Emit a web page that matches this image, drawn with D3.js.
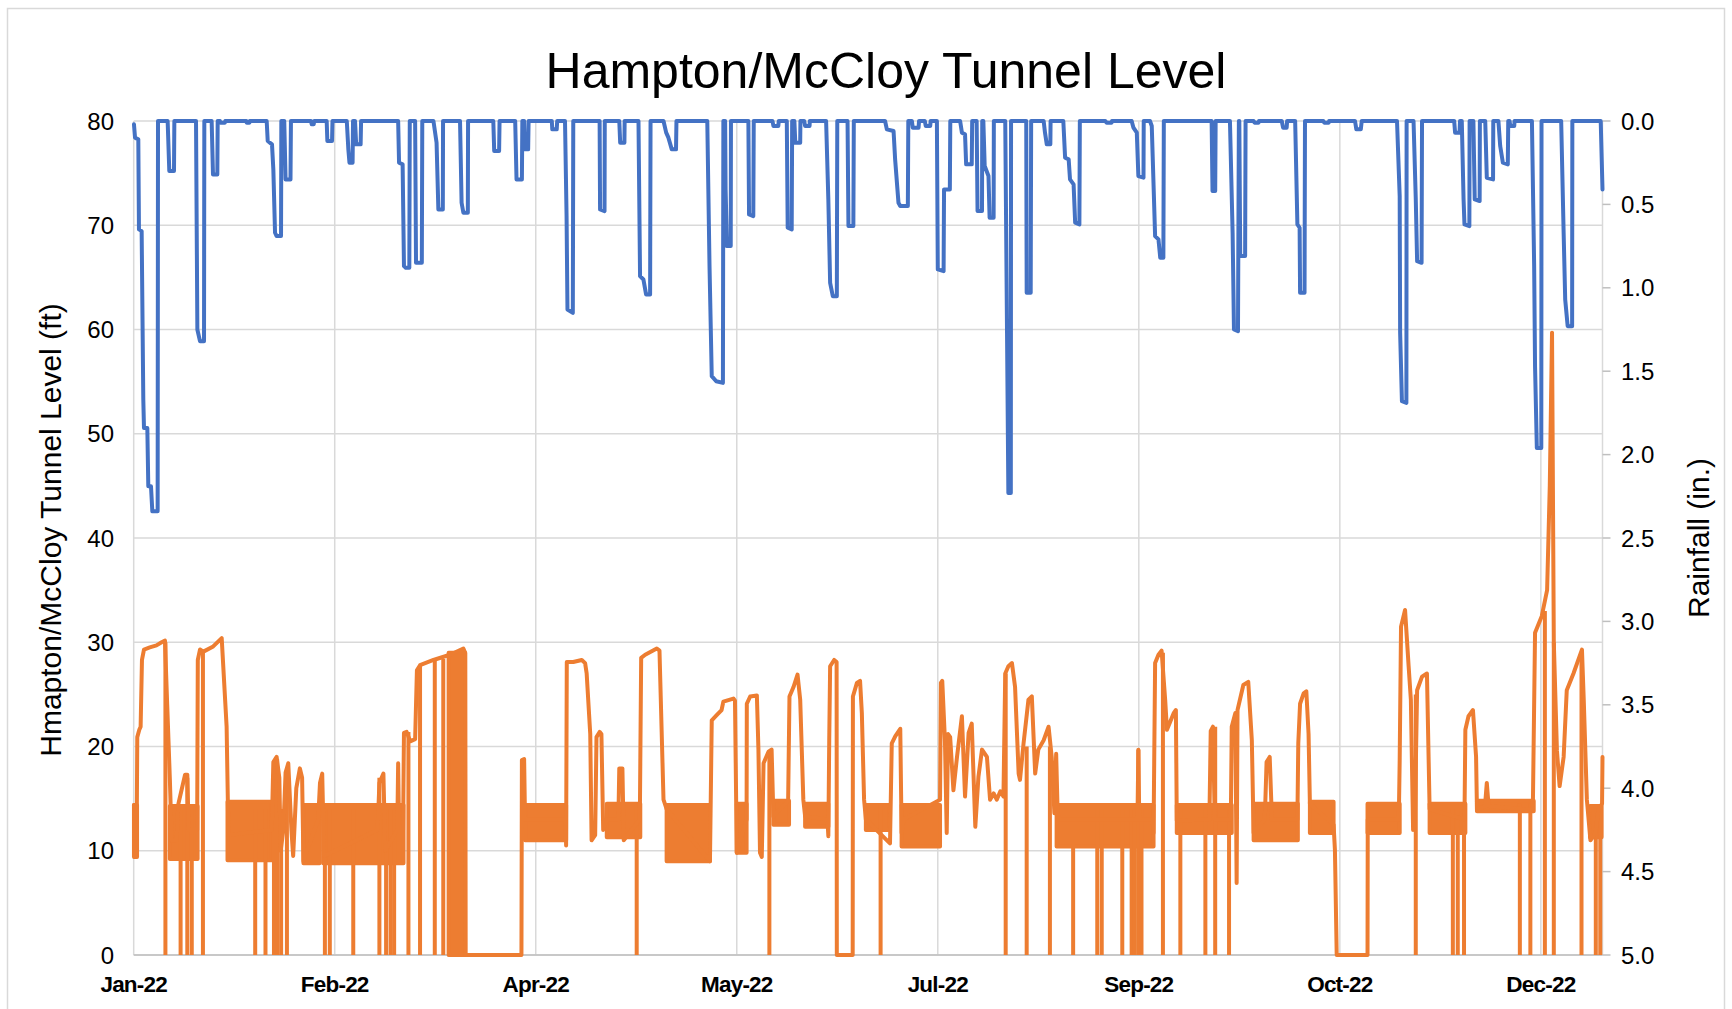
<!DOCTYPE html>
<html>
<head>
<meta charset="utf-8">
<script src="https://cdnjs.cloudflare.com/ajax/libs/d3/7.8.5/d3.min.js"></script>
<style>
  html, body { margin: 0; padding: 0; background: #fff; }
  text { font-family: "Liberation Sans", Arial, sans-serif; fill: #000; }
</style>
</head>
<body>
<div id="chart"></div>
<script>
'use strict';

// x ticks (days since start of record) and their labels
const tickDays = [0, 45, 90, 135, 180, 225, 270, 315];
const tickLabels = ["Jan-22", "Feb-22", "Apr-22", "May-22", "Jul-22", "Sep-22", "Oct-22", "Dec-22"];
const lastDay = 328.8;

const levelTicks = [0, 10, 20, 30, 40, 50, 60, 70, 80];
const rainTicks = [0, 0.5, 1, 1.5, 2, 2.5, 3, 3.5, 4, 4.5, 5];

// rainfall, inches  [day, in]
const rainfall = [
  [0.06,0.02],[0.3,0.10],[1.03,0.11],[1.18,0.65],[1.78,0.66],[2.15,1.67],[2.3,1.84],[3.05,1.84],[3.27,2.19],[3.87,2.19],[4.17,2.34],[5.36,2.34],[5.44,0],
  [7.6,0],[7.97,0.30],[9.02,0.30],[9.1,0],
  [13.95,0],[14.25,1.25],[14.84,1.32],[15.74,1.32],[15.81,0],
  [17.45,0],[17.75,0.32],[18.72,0.32],[18.8,0],
  [19.3,0],[19.4,0.01],[20.4,0.01],[20.5,0],
  [25.2,0],[25.3,0.01],[25.9,0.01],[26,0],
  [29.77,0],[30,0.12],[30.96,0.14],[31.26,0.29],[31.64,0.67],[32.0,0.69],[32.98,0.69],[33.05,0],
  [33.7,0],[34.0,0.35],[35.1,0.35],[35.2,0],
  [39.7,0],[39.85,0.02],[40.3,0.02],[40.4,0],
  [43.2,0],[43.35,0.12],[44.4,0.12],[44.5,0],
  [47.7,0],[48.05,0.17],[48.3,0.25],[49.0,0.25],[49.1,0],
  [49.55,0],[49.8,0.14],[50.8,0.14],[50.9,0],
  [59.2,0],[59.4,0.25],[60.2,0.26],[60.5,0.87],[60.9,0.88],[61.7,0.88],[61.8,0],
  [63.0,0],[63.2,0.85],[64.5,0.85],[64.6,0],
  [67.1,0],[67.8,0.13],[68.2,0.53],[69.2,0.53],[69.25,0],
  [73.05,0],[73.4,0.49],[73.8,0.55],[74.8,0.55],[74.85,0],
  [80.5,0],[80.7,0.18],[81.8,0.18],[81.9,0],
  [85.4,0],[85.7,0.35],[86.9,0.35],[87.0,0],
  [87.4,0],[87.55,0.17],[88.3,0.17],[88.4,0],
  [93.6,0],[93.7,0.05],[94.7,0.05],[94.8,0],
  [96.55,0],[96.9,0.57],[97.1,1.13],[98.3,1.15],[98.4,0],
  [104.3,0],[104.4,0.53],[105.4,0.54],[105.45,0],
  [108.7,0],[108.9,0.13],[109.85,0.13],[109.9,0],
  [113.0,0],[113.35,0.93],[114.1,0.95],[114.7,1.04],[115.6,1.04],[115.7,0],
  [118.6,0],[119.2,0.07],[119.7,0.10],[120.45,0.17],[121.4,0.17],[121.5,0],
  [128.4,0],[128.9,0.87],[129.4,1.53],[130.4,1.56],[131.9,1.57],[132.0,0],
  [132.4,0],[132.5,0.41],[132.8,0.75],[133.65,0.75],[133.7,0],
  [137.6,0],[137.75,0.56],[138.7,0.57],[138.8,0],
  [143.0,0],[143.2,0.03],[144.3,0.03],[144.4,0],
  [146.2,0],[146.4,0.64],[147.3,0.65],[147.4,0],
  [147.9,0],[148.1,0.13],[149.2,0.13],[149.25,0],
  [150.1,0],[150.3,0.03],[151.3,0.03],[151.35,0],
  [155.0,0],[155.5,0.47],[155.9,0.97],[156.5,1.05],[157.4,1.05],[157.5,0],
  [159.8,0],[160.0,0.63],[161.1,0.63],[161.2,0],
  [168.2,0],[168.6,0.05],[170.1,0.06],[170.45,0.23],[171.2,0.49],[171.6,0.51],[173.3,0.51],[173.4,0],
  [174.2,0],[174.4,0.04],[175.7,0.04],[175.8,0],
  [177.1,0],[177.3,0.03],[178.3,0.03],[178.4,0],
  [179.8,0],[180.0,0.89],[181.3,0.90],[181.4,0.41],[182.7,0.41],[182.8,0],
  [185.0,0],[185.4,0.07],[186.1,0.08],[186.35,0.26],[187.6,0.26],[187.7,0],
  [188.7,0],[188.9,0.54],[189.9,0.54],[189.95,0],
  [190.2,0],[190.5,0.27],[191.35,0.33],[191.6,0.58],[192.5,0.58],[192.55,0],
  [195.1,0],[195.5,1.27],[195.8,2.23],[196.35,2.23],[196.4,0],
  [199.8,0],[199.9,1.03],[200.8,1.03],[200.9,0],
  [203.7,0],[204.0,0.07],[204.4,0.14],[205.2,0.14],[205.25,0],
  [208.1,0],[208.5,0.22],[209.3,0.23],[209.6,0.35],[210.4,0.38],[210.75,0.61],[211.7,0.62],[211.8,0],
  [217.5,0],[217.8,0.01],[218.9,0.01],[219.0,0],
  [223.4,0],[223.8,0.04],[224.55,0.07],[224.9,0.33],[226.05,0.34],[226.1,0],
  [227.5,0],[227.9,0.03],[228.65,0.69],[229.4,0.71],[229.8,0.82],[230.5,0.82],[230.6,0],
  [241.3,0],[241.5,0.42],[242.1,0.42],[242.2,0],
  [245.4,0],[246.0,0.67],[246.3,1.25],[247.2,1.26],[247.4,0],[247.5,0],[247.7,0.81],[248.8,0.81],[248.9,0],
  [250.7,0],[250.9,0.01],[251.8,0.01],[251.9,0],
  [257.0,0],[257.3,0.04],[258.1,0.04],[258.2,0],
  [260.0,0],[260.5,0.62],[261.0,0.64],[261.1,1.03],[262.1,1.03],[262.2,0],
  [266.3,0],[266.5,0.01],[267.5,0.01],[267.6,0],
  [273.4,0],[273.7,0.05],[274.7,0.05],[274.9,0],
  [282.8,0],[283.4,0.45],[283.5,1.27],[283.9,1.68],[284.9,1.69],[284.95,0],
  [286.5,0],[287.0,0.47],[287.3,0.84],[288.3,0.85],[288.4,0],
  [295.6,0],[295.8,0.07],[296.8,0.07],[296.9,0],
  [297.3,0],[297.7,0.47],[297.9,0.62],[299.0,0.63],[299.05,0],
  [299.9,0],[300.2,0.47],[301.3,0.48],[301.35,0],
  [302.55,0],[302.9,0.34],[304.3,0.35],[304.35,0],
  [305.5,0],[305.9,0.15],[306.5,0.25],[307.6,0.26],[307.7,0],
  [308.0,0],[308.15,0.03],[309.05,0.03],[309.1,0],
  [313.0,0],[313.5,0.87],[313.7,1.47],[314.1,1.96],[315.1,1.96],[315.15,0],
  [319.55,0],[320.1,0.67],[320.45,1.07],[321.0,1.23],[322.0,1.23],[322.05,0],
  [328.4,0],[328.8,0.41]
];

// tunnel level, ft  [day, ft]
const tunnelLevel = [
  [0.06,14.4],[0.3,9.4],[0.65,10.4],[0.8,20.9],[1.25,21.6],[1.55,21.9],[1.85,28.3],[2.3,29.3],[3.6,29.5],[5.1,29.7],[6.25,30.0],[7.0,30.15],[7.5,24],[8.1,16.8],[8.5,11],[9.6,11],[10.0,14.5],[10.7,15.8],[11.5,17.3],[12.0,17.3],[12.3,12],[14.2,12],
  [14.35,28.3],[14.84,29.3],[15.6,29.1],[17.8,29.6],[19.7,30.4],[20.8,21.9],[21.2,11.5],[30.9,12],[31.26,18.5],[32.0,19.0],[32.6,17],[32.9,10],[33.5,12],[34.0,17.5],[34.6,18.4],[35.3,12],[35.7,9.5],[36.4,16],[37.2,17.9],[37.7,17],[38.0,9.0],
  [41.3,13],[41.7,16.5],[42.2,17.4],[42.6,9.5],[54.6,12],[55.0,16.5],[55.9,17.4],[56.3,10],[59.0,12],[59.2,18.4],[59.4,12],[60.3,12],
  [60.5,21.3],[61.1,21.4],[61.9,20.5],[63.0,20.7],[63.4,27.3],[64.1,27.8],[67.1,28.3],[70.8,28.8],[73.8,29.4],[74.2,29],[74.3,0],[86.8,0],[86.9,18.7],[87.4,18.8],[87.6,13],[96.7,13],[96.8,10.5],
  [96.95,28.1],[98.4,28.1],[100.3,28.3],[101.05,28.0],[101.4,27],[102.2,21.2],[102.5,11],[103.3,11.5],[103.6,20.9],[104.3,21.4],[104.7,21.2],[105.1,12],[105.9,13],[108.5,13],[108.7,17.9],[109.4,17.9],[109.7,11],[113.3,13],
  [113.6,28.5],[114.5,28.8],[117.1,29.4],[117.7,29.2],[118.6,14.9],[119.3,14],[129.0,9.0],[129.4,22.5],[130.5,23.0],[131.6,23.5],[132.0,24.3],[134.25,24.6],[134.6,24.4],[135.0,9.8],[137.2,13],
  [137.25,24.1],[138.0,24.8],[139.5,24.9],[139.85,19.7],[140.2,9.8],[140.6,9.4],[141.0,18.4],[142.1,19.5],[142.8,19.7],[143.2,13.3],[146.5,14.8],[146.8,24.8],[147.7,25.7],[148.6,26.9],[149.2,24.5],[149.9,14.9],[150.3,13.3],[155.3,13],
  [155.5,11.4],[155.7,20.6],[155.9,27.7],[156.8,28.3],[157.35,28.1],[157.4,0],[160.95,0],[161.0,24.8],[161.9,26.1],[162.6,26.3],[163.0,23.2],[163.5,14.9],[163.9,13],[169.3,10.7],[169.7,20.3],[170.5,21],[171.6,21.7],[171.9,11.7],[172.3,13],
  [180.5,14.9],[180.7,26.1],[181.0,26.3],[181.6,20.6],[182.0,11.7],[182.3,21.2],[182.77,20.9],[183.5,15.8],[184.3,19],[185.4,22.9],[186.1,15.2],[186.9,21.3],[187.6,22.2],[188.4,12.3],[189.1,17.1],[189.9,19.7],[191.0,19.0],[191.7,14.9],[192.5,15.5],[193.2,14.9],[194.0,15.7],[194.7,15.2],
  [195.1,27.0],[195.8,27.7],[196.6,28.0],[197.3,25.7],[198.1,17.4],[198.4,16.8],[199.2,20.3],[200.3,24.5],[201.05,24.8],[201.8,17.4],[202.5,19.7],[203.7,20.6],[204.8,21.9],[205.5,19],[206.1,13.6],[206.5,19.3],[206.8,14.2],[207.0,13],
  [224.7,13],[224.9,19.7],[225.1,13],[228.1,13],[228.3,11.7],[228.65,28],[229.4,28.8],[230.1,29.2],[230.9,24.5],[231.3,21.6],[232.8,23.2],[233.3,23.5],[233.5,12.9],[240.8,13],[241.1,21.5],[241.6,21.9],[242.0,13],[245.6,13],
  [245.8,21.9],[246.6,23.2],[246.9,6.9],[247.1,23.5],[248.4,25.9],[249.5,26.2],[250.3,20.6],[250.7,11.7],[253.2,13],[253.6,18.5],[254.3,19],[254.8,13],[260.5,13],[260.7,20.3],[261.1,24.1],[261.9,25.1],[262.5,25.3],[263.0,21.2],[263.3,14.5],
  [268.6,12.5],[268.9,10.1],[269.3,0],[276.2,0],[276.25,13],[283.2,13],[283.4,18.7],[283.7,31.5],[284.6,33.1],[285.4,27.7],[285.9,24.5],[286.4,12],[286.8,13],[287.3,25.4],[288.4,26.7],[289.5,27.0],[290.1,14],[297.9,13],
  [298.1,21.6],[298.8,22.9],[299.8,23.5],[300.5,19],[300.7,13.9],[302.5,14.3],[302.9,16.5],[303.3,14.3],[313.2,13.9],[313.7,30.9],[315.2,32.5],[316.4,35],[317.0,45],[317.5,59.7],[317.9,30],[318.6,19.6],[319.2,16.2],
  [320.1,19],[320.8,25.4],[322.3,27],[324.2,29.3],[324.6,24.5],[325.3,14.9],[326.1,11],[327.2,11.7],[327.9,13.9],[328.7,14.5],[328.8,19]
];

// stretches where the level chatters quickly between two values  [dayStart, dayEnd, lowFt, highFt]
const levelBands = [
  [0.06,0.75,9.4,14.4],[8.1,14.3,9.2,14.3],[21.0,30.9,9.1,14.7],[38.0,41.6,8.8,14.4],[42.4,60.4,8.8,14.4],
  [70.5,74.2,0,29.0],[87.6,96.8,11.0,14.4],[105.9,113.4,11.3,14.5],[119.3,129.0,9.0,14.4],[135.0,137.2,9.8,14.5],
  [143.2,146.7,12.5,14.8],[150.3,155.5,12.3,14.5],[163.9,169.3,12.0,14.4],[171.9,180.5,10.4,14.4],[206.6,228.3,10.4,14.4],
  [233.5,245.8,11.7,14.4],[250.7,260.6,11.0,14.5],[263.3,268.6,11.7,14.7],[276.2,283.4,11.7,14.5],[290.1,298.1,11.7,14.5],
  [300.7,313.4,13.8,14.8],[326.0,328.6,11.3,14.3]
];

// momentary drops of the level reading to zero  [day, ftBeforeDrop]
const levelDrops = [
  [7.1,30],[10.5,14],[12.0,17],[13.0,14],[15.5,29.2],[27.2,14],[29.5,14],[31.4,18.5],[32.1,18.8],[33.0,14],[34.3,17],
  [42.8,14],[43.9,14],[49.15,14],[55.0,17],[56.5,14],[57.5,14],[58.3,14],[61.5,21.4],[64.1,27.8],[67.4,28.2],[69.3,28.4],
  [112.6,14.4],[142.3,19.5],[167.2,14.4],
  [195.2,27],[199.9,20],[205.1,20],[210.3,14],[215.7,14],[216.7,14],[221.3,14],[223.4,14],[224.1,14],[224.9,19.7],[225.6,14],
  [230.4,29],[234.3,14],[239.9,14],[242.1,21.9],[245.2,14],
  [287.0,25],[295.3,14],[296.4,14],[297.8,14],[310.3,14.5],[312.65,14.5],[315.9,33],[317.9,30],[324.1,29],[327.3,12],[328.3,14]
];

const width = 1732, height = 1009;
const margin = {top: 121, right: 129.5, bottom: 54, left: 133.7};
const blue = '#4472C4', orange = '#ED7D31', grid = '#d9d9d9';
const lineW = 4;

var svg = d3.select('#chart').append('svg')
    .attr('width', width)
    .attr('height', height);

// chart area border
svg.append('rect')
    .attr('x', 7.5).attr('y', 8.5)
    .attr('width', 1717).attr('height', 1010)
    .attr('fill', 'none')
    .attr('stroke', '#d9d9d9')
    .attr('stroke-width', 1.5);

// set the ranges
var x = d3.scaleLinear().domain([0, lastDay]).range([margin.left, width - margin.right]);
var yLevel = d3.scaleLinear().domain([0, 80]).range([height - margin.bottom, margin.top]);
var yRain = d3.scaleLinear().domain([0, 5]).range([margin.top, height - margin.bottom]);

// horizontal gridlines
svg.append('g')
    .selectAll('line')
    .data(levelTicks)
    .enter().append('line')
    .attr('x1', x(0)).attr('x2', x(lastDay))
    .attr('y1', d => yLevel(d)).attr('y2', d => yLevel(d))
    .attr('stroke', grid)
    .attr('stroke-width', 1.5);

// vertical gridlines
svg.append('g')
    .selectAll('line')
    .data(tickDays.concat([lastDay]))
    .enter().append('line')
    .attr('x1', d => x(d)).attr('x2', d => x(d))
    .attr('y1', yLevel(80)).attr('y2', yLevel(0))
    .attr('stroke', grid)
    .attr('stroke-width', 1.5);

// bottom axis line
svg.append('line')
    .attr('x1', x(0)).attr('x2', x(lastDay))
    .attr('y1', yLevel(0)).attr('y2', yLevel(0))
    .attr('stroke', '#bfbfbf')
    .attr('stroke-width', 1.5);

// right axis ticks
svg.append('g')
    .selectAll('line')
    .data(rainTicks)
    .enter().append('line')
    .attr('x1', x(lastDay)).attr('x2', x(lastDay) + 8)
    .attr('y1', d => yRain(d)).attr('y2', d => yRain(d))
    .attr('stroke', '#bfbfbf')
    .attr('stroke-width', 1.5);

// left tick labels
svg.append('g')
    .selectAll('text')
    .data(levelTicks)
    .enter().append('text')
    .attr('x', 114)
    .attr('y', d => yLevel(d))
    .attr('dy', '0.36em')
    .attr('text-anchor', 'end')
    .style('font-size', '24px')
    .text(d => d);

// right tick labels
svg.append('g')
    .selectAll('text')
    .data(rainTicks)
    .enter().append('text')
    .attr('x', 1621)
    .attr('y', d => yRain(d))
    .attr('dy', '0.36em')
    .style('font-size', '24px')
    .text(d => d.toFixed(1));

// bottom tick labels
svg.append('g')
    .selectAll('text')
    .data(tickDays)
    .enter().append('text')
    .attr('x', d => x(d))
    .attr('y', 992)
    .attr('text-anchor', 'middle')
    .style('font-size', '22.5px')
    .style('font-weight', 'bold')
    .style('letter-spacing', '-0.8px')
    .text((d, i) => tickLabels[i]);

// titles
svg.append('text')
    .attr('x', 886).attr('y', 88)
    .attr('text-anchor', 'middle')
    .style('font-size', '50px')
    .text('Hampton/McCloy Tunnel Level');

svg.append('text')
    .attr('transform', 'translate(50,530) rotate(-90)')
    .attr('dy', '0.36em')
    .attr('text-anchor', 'middle')
    .style('font-size', '30px')
    .text('Hmapton/McCloy Tunnel Level (ft)');

svg.append('text')
    .attr('transform', 'translate(1698,538) rotate(-90)')
    .attr('dy', '0.36em')
    .attr('text-anchor', 'middle')
    .style('font-size', '30px')
    .text('Rainfall (in.)');

// tunnel level series
var levelG = svg.append('g');

levelG.selectAll('rect')
    .data(levelBands)
    .enter().append('rect')
    .attr('x', d => x(d[0]))
    .attr('width', d => x(d[1]) - x(d[0]))
    .attr('y', d => yLevel(d[3]))
    .attr('height', d => yLevel(d[2]) - yLevel(d[3]))
    .attr('fill', orange)
    .attr('stroke', orange)
    .attr('stroke-width', lineW)
    .attr('stroke-linejoin', 'round');

levelG.selectAll('line')
    .data(levelDrops)
    .enter().append('line')
    .attr('x1', d => x(d[0])).attr('x2', d => x(d[0]))
    .attr('y1', d => yLevel(d[1])).attr('y2', yLevel(0))
    .attr('stroke', orange)
    .attr('stroke-width', lineW);

levelG.append('path')
    .datum(tunnelLevel)
    .attr('fill', 'none')
    .attr('stroke', orange)
    .attr('stroke-width', lineW)
    .attr('stroke-linejoin', 'round')
    .attr('stroke-linecap', 'round')
    .attr('d', d3.line().x(d => x(d[0])).y(d => yLevel(d[1])));

// rainfall series on the reversed right axis
svg.append('path')
    .datum(rainfall)
    .attr('fill', 'none')
    .attr('stroke', blue)
    .attr('stroke-width', lineW)
    .attr('stroke-linejoin', 'round')
    .attr('stroke-linecap', 'round')
    .attr('d', d3.line().x(d => x(d[0])).y(d => yRain(d[1])));
</script>
</body>
</html>
